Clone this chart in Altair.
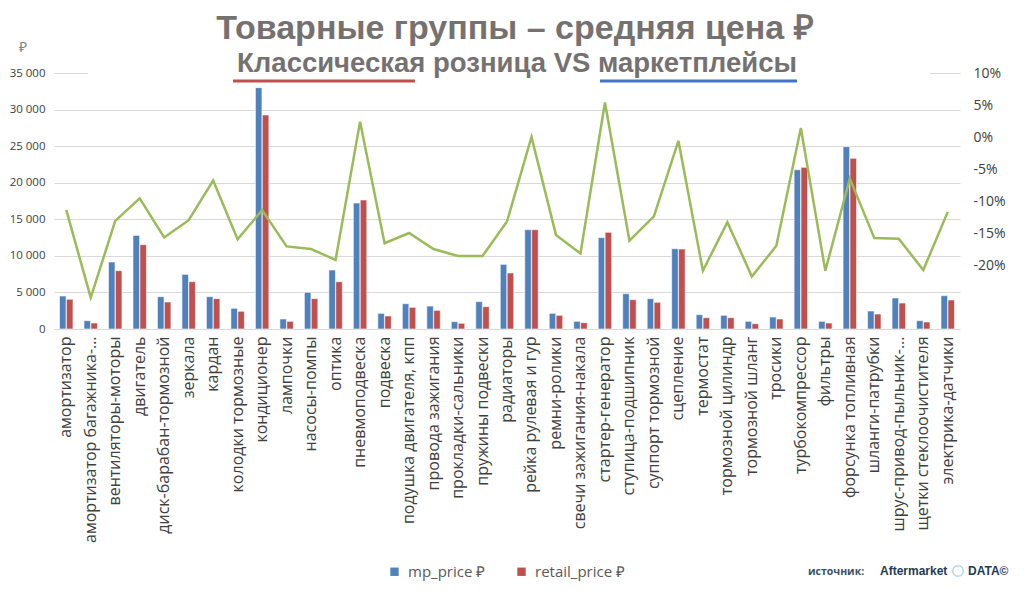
import altair as alt
import pandas as pd

categories = [
    "амортизатор", "амортизатор багажника-капота", "вентиляторы-моторы", "двигатель",
    "диск-барабан-тормозной", "зеркала", "кардан", "колодки тормозные", "кондиционер",
    "лампочки", "насосы-помпы", "оптика", "пневмоподвеска", "подвеска",
    "подушка двигателя, кпп", "провода зажигания", "прокладки-сальники",
    "пружины подвески", "радиаторы", "рейка рулевая и гур", "ремни-ролики",
    "свечи зажигания-накала", "стартер-генератор", "ступица-подшипник",
    "суппорт тормозной", "сцепление", "термостат", "тормозной цилиндр",
    "тормозной шланг", "тросики", "турбокомпрессор", "фильтры", "форсунка топливная",
    "шланги-патрубки", "шрус-привод-пыльник-...", "щетки стеклоочистителя",
    "электрика-датчики",
]
mp_price = [4510, 1140, 9160, 12800, 4420, 7470, 4420, 2830, 33000, 1370, 5010, 8070,
            17230, 2140, 3460, 3140, 1000, 3740, 8840, 13580, 2140, 1050, 12490, 4830,
            4150, 10980, 1960, 1870, 1050, 1640, 21780, 1050, 24930, 2460, 4240, 1140, 4560]
retail_price = [4060, 820, 7980, 11530, 3690, 6470, 4150, 2420, 29260, 1050, 4150, 6470,
                17640, 1780, 2960, 2550, 780, 3050, 7660, 13580, 1870, 870, 13220, 4010,
                3650, 10940, 1550, 1550, 730, 1370, 22100, 820, 23330, 2050, 3550, 960, 3970]
diff_pct = [-11.4, -25.1, -13.1, -9.6, -15.7, -13.0, -6.8, -16.0, -11.4, -17.1, -17.5, -19.2,
            2.4, -16.6, -15.0, -17.5, -18.6, -18.6, -13.2, 0.0, -15.3, -18.2, 5.4, -16.2,
            -12.4, -0.6, -20.9, -13.3, -21.8, -17.0, 1.4, -20.9, -6.5, -15.8, -15.9, -20.8, -11.7]

series_names = ["mp_price ₽", "retail_price ₽"]
series_colors = ["#4F81BD", "#C0504D"]

title_text = "Товарные группы – средняя цена ₽"
subtitle_text = "Классическая розница VS маркетплейсы"

bars_df = pd.concat([
    pd.DataFrame({"cat": categories, "series": series_names[0], "price": mp_price}),
    pd.DataFrame({"cat": categories, "series": series_names[1], "price": retail_price}),
])
line_df = pd.DataFrame({"cat": categories, "diff": [v / 100 for v in diff_pct]})

FONT = "Open Sans"
GREY = "#767171"

x_enc = alt.X("cat:N", sort=categories, title=None,
              scale=alt.Scale(paddingInner=0.45, paddingOuter=0.225),
              axis=alt.Axis(labelAngle=-90, labelFontSize=16, labelColor="#404040",
                            labelFont=FONT, labelLimit=214, labelPadding=7,
                            domain=False, ticks=False, grid=False))

bars = alt.Chart(bars_df).mark_bar(stroke="white", strokeWidth=0.6).encode(
    x=x_enc,
    xOffset=alt.XOffset("series:N", sort=series_names, scale=alt.Scale(paddingInner=0.05)),
    y=alt.Y("price:Q", title="₽",
            scale=alt.Scale(domain=[0, 35000], nice=False),
            axis=alt.Axis(values=list(range(0, 35001, 5000)),
                          labelExpr="replace(format(datum.value, ','), ',', ' ')",
                          domain=False, ticks=False, gridColor="#d9d9d9",
                          labelFontSize=11.5, labelColor="#404040", labelFont=FONT,
                          labelPadding=9, titleAngle=0, titleX=-32, titleY=-19,
                          titleFontWeight="normal", titleColor="#7f7f7f",
                          titleFontSize=14, titleFont=FONT)),
    color=alt.Color("series:N", sort=series_names,
                    scale=alt.Scale(domain=series_names, range=series_colors),
                    legend=alt.Legend(title=None, orient="none", legendX=333, legendY=491,
                                      direction="horizontal", symbolType="square",
                                      symbolSize=70, symbolStrokeWidth=0,
                                      labelFontSize=15, labelColor="#595959",
                                      labelFont=FONT, columnPadding=28, labelOffset=6)),
)

line = alt.Chart(line_df).mark_line(color="#9BBB59", strokeWidth=2.5).encode(
    x=alt.X("cat:N", sort=categories),
    y=alt.Y("diff:Q", title=None,
            scale=alt.Scale(domain=[-0.3, 0.1], nice=False),
            axis=alt.Axis(orient="right", values=[-0.2, -0.15, -0.1, -0.05, 0, 0.05, 0.1],
                          labelExpr="round(datum.value * 100) + '%'",
                          domain=False, ticks=False, grid=False,
                          labelFontSize=14, labelColor="#404040", labelFont=FONT,
                          labelPadding=13)),
)

# hide the top gridline behind the title box, like the original
cover = alt.Chart(pd.DataFrame({"k": [0]})).mark_rule(color="white", strokeWidth=3).encode(
    x=alt.value(34), x2=alt.value(876), y=alt.value(0))

under_df = pd.DataFrame({"x": [179, 546], "x2": [361, 743], "c": ["#C0504D", "#4472C4"]})
underlines = alt.Chart(under_df).mark_rule(strokeWidth=3).encode(
    x=alt.X("x:Q", scale=None), x2="x2:Q", y=alt.value(8),
    color=alt.Color("c:N", scale=None))

title = alt.Chart(pd.DataFrame({"t": [title_text]})).mark_text(
    font="Liberation Sans", fontSize=34, fontWeight="bold", color=GREY,
    align="center", baseline="alphabetic"
).encode(text="t:N", x=alt.value(461), y=alt.value(-34))

subtitle = alt.Chart(pd.DataFrame({"t": [subtitle_text]})).mark_text(
    font="Liberation Sans", fontSize=27.5, fontWeight="bold", color=GREY,
    align="center", baseline="alphabetic"
).encode(text="t:N", x=alt.value(463), y=alt.value(-1.5))

src1 = alt.Chart(pd.DataFrame({"t": ["источник:"]})).mark_text(
    font=FONT, fontSize=10.5, fontWeight="bold", color="#3b4f63",
    align="left", baseline="alphabetic"
).encode(text="t:N", x=alt.value(754), y=alt.value(502))
src2 = alt.Chart(pd.DataFrame({"t": ["Aftermarket"]})).mark_text(
    font="Liberation Sans", fontSize=12, fontWeight="bold", color="#1f3a56",
    align="left", baseline="alphabetic"
).encode(text="t:N", x=alt.value(826), y=alt.value(502))
logo = alt.Chart(pd.DataFrame({"k": [0]})).mark_point(
    shape="circle", size=110, color="#9dc3e6", strokeWidth=1.5
).encode(x=alt.value(904), y=alt.value(498))
src3 = alt.Chart(pd.DataFrame({"t": ["DATA©"]})).mark_text(
    font="Liberation Sans", fontSize=12, fontWeight="bold", color="#1f3a56",
    align="left", baseline="alphabetic"
).encode(text="t:N", x=alt.value(914), y=alt.value(502))

chart = alt.layer(
    bars, line, cover, underlines, title, subtitle, src1, src2, logo, src3
).resolve_scale(y="independent", color="independent").properties(
    width=906, height=256,
    autosize=alt.AutoSizeParams(type="none"),
    padding={"left": 46, "top": 65, "right": 56, "bottom": 252},
).configure_view(stroke=None)

chart.save("out.html", embed_options={"renderer": "svg", "actions": False})
